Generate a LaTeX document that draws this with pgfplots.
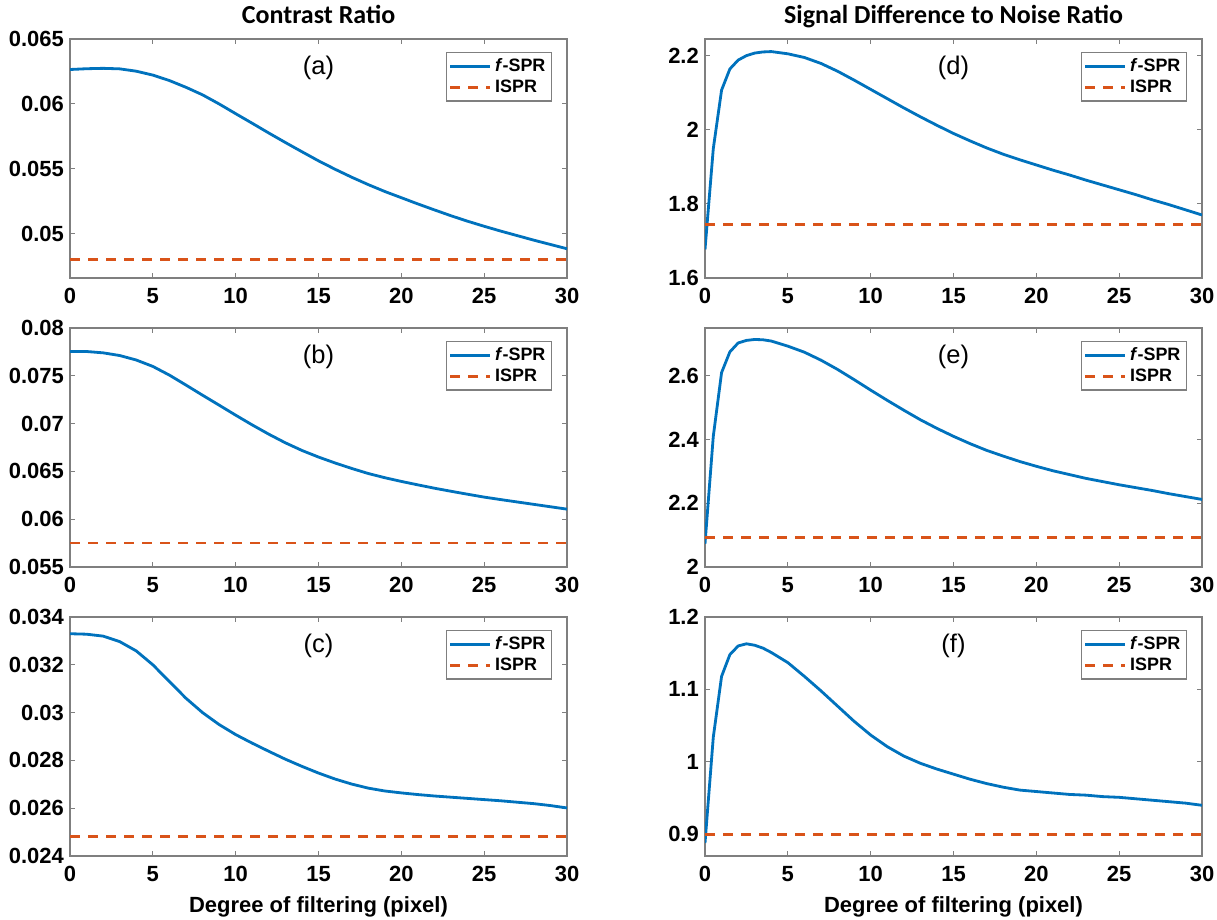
\documentclass[border=0pt]{standalone}
\usepackage{pgfplots}
\pgfplotsset{compat=1.18}
\usepackage{fontspec}
\setmainfont{Liberation Sans}
\newfontfamily\titlefont{Carlito}
\definecolor{mblue}{HTML}{0072BD}
\definecolor{morange}{HTML}{D95319}
\definecolor{frame}{HTML}{7F7F7F}

\pgfplotsset{
  panel/.style={
    scale only axis, width=9.94cm, height=4.78cm,
    xmin=0, xmax=30, xtick={0,5,...,30},
    axis line style={frame, line width=0.6pt},
    every tick/.style={frame, line width=0.6pt},
    major tick length=0.1cm,
    tick align=inside,
    scaled y ticks=false,
    /pgf/number format/assume math mode=true,
    ticklabel style={font=\fontsize{12.5}{14}\selectfont\bfseries, text=black},
    xticklabel style={yshift=-0.08cm},
    yticklabel style={/pgf/number format/fixed, /pgf/number format/precision=3},
    every axis title shift=0pt,
    title style={font=\titlefont\fontsize{14.8}{16}\selectfont\bfseries,
      at={(0.5,1)}, anchor=base, yshift=0.3cm},
    xlabel style={font=\fontsize{12.5}{14}\selectfont\bfseries,
      at={(0.5,0)}, anchor=base, yshift=-1.14cm},
    legend style={at={(0.97,0.945)}, anchor=north east, draw=frame,
      line width=0.6pt, font=\fontsize{10.2}{12}\selectfont\bfseries,
      inner sep=1.5pt, row sep=-1pt,
      nodes={inner sep=2pt, anchor=west}},
    legend cell align=left,
    legend image code/.code={\draw[#1] (0cm,0cm) -- (0.8cm,0cm);},
  },
  spr/.style={mblue, line width=1.6pt, line join=round},
  ispr/.style={morange, line width=1.6pt, dash pattern=on 0.2cm off 0.16cm},
}
\newcommand{\panellabel}[1]{\node[font=\fontsize{14.5}{16}\selectfont] at (rel axis cs:0.5,0.88) {#1};}

\begin{document}
\begin{tikzpicture}
\useasboundingbox (0,0) rectangle (24.34,18.4);

% ---- left column: contrast ratio
\begin{axis}[panel, at={(1.40cm,12.84cm)}, anchor=south west,
  title={Contrast Ratio},
  ymin=0.0466, ymax=0.065, ytick={0.05,0.055,0.06,0.065}]
\addplot[spr] coordinates {(0,0.06265)(1,0.06271)(2,0.06274)(3,0.06270)(4,0.06252)(5,0.06222)
  (6,0.06180)(7,0.06128)(8,0.06070)(9,0.06000)(10,0.05925)(11,0.05851)(12,0.05776)(13,0.05703)
  (14,0.05632)(15,0.05562)(16,0.05497)(17,0.05436)(18,0.05379)(19,0.05326)(20,0.05278)
  (21,0.05230)(22,0.05184)(23,0.05139)(24,0.05097)(25,0.05058)(26,0.05021)(27,0.04986)
  (28,0.04951)(29,0.04918)(30,0.04885)};
\addlegendentry{\textit{f}-SPR}
\addplot[ispr] coordinates {(0,0.048)(30,0.048)};
\addlegendentry{ISPR}
\panellabel{(a)}
\end{axis}

\begin{axis}[panel, at={(1.40cm,7.06cm)}, anchor=south west,
  ymin=0.055, ymax=0.08, ytick={0.055,0.06,0.065,0.07,0.075,0.08}]
\addplot[spr] coordinates {(0,0.07755)(1,0.07754)(2,0.07740)(3,0.07712)(4,0.07665)(5,0.07598)
  (6,0.07507)(7,0.07403)(8,0.07297)(9,0.07193)(10,0.07088)(11,0.06986)(12,0.06889)(13,0.06799)
  (14,0.06719)(15,0.06650)(16,0.06588)(17,0.06531)(18,0.06478)(19,0.06434)(20,0.06395)
  (21,0.06359)(22,0.06324)(23,0.06292)(24,0.06261)(25,0.06231)(26,0.06205)(27,0.06180)
  (28,0.06155)(29,0.06130)(30,0.06105)};
\addlegendentry{\textit{f}-SPR}
\addplot[ispr] coordinates {(0,0.0575)(30,0.0575)};
\addlegendentry{ISPR}
\panellabel{(b)}
\end{axis}

\begin{axis}[panel, at={(1.40cm,1.28cm)}, anchor=south west,
  xlabel={Degree of filtering (pixel)},
  ymin=0.024, ymax=0.034, ytick={0.024,0.026,0.028,0.03,0.032,0.034}]
\addplot[spr] coordinates {(0,0.03330)(1,0.03328)(2,0.03320)(3,0.03297)(4,0.03258)(5,0.03200)
  (6,0.03130)(7,0.03060)(8,0.03000)(9,0.02950)(10,0.02908)(11,0.02872)(12,0.02838)(13,0.02805)
  (14,0.02775)(15,0.02747)(16,0.02722)(17,0.02701)(18,0.02684)(19,0.02672)(20,0.02664)
  (21,0.02657)(22,0.02651)(23,0.02646)(24,0.02641)(25,0.02636)(26,0.02631)(27,0.02625)
  (28,0.02619)(29,0.02611)(30,0.02601)};
\addlegendentry{\textit{f}-SPR}
\addplot[ispr] coordinates {(0,0.0248)(30,0.0248)};
\addlegendentry{ISPR}
\panellabel{(c)}
\end{axis}

% ---- right column: SDNR
\begin{axis}[panel, at={(14.10cm,12.84cm)}, anchor=south west,
  title={Signal Difference to Noise Ratio},
  ymin=1.6, ymax=2.245, ytick={1.6,1.8,2,2.2}]
\addplot[spr] coordinates {(0,1.677)(0.5,1.949)(1,2.107)(1.5,2.164)(2,2.188)(2.5,2.2)(3,2.207)
  (3.5,2.21)(4,2.211)(5,2.205)(6,2.195)(7,2.179)(8,2.158)(9,2.134)(10,2.109)(11,2.084)(12,2.059)
  (13,2.035)(14,2.012)(15,1.99)(16,1.97)(17,1.951)(18,1.934)(19,1.919)(20,1.905)(21,1.891)
  (22,1.878)(23,1.864)(24,1.851)(25,1.838)(26,1.825)(27,1.811)(28,1.798)(29,1.784)(30,1.77)};
\addlegendentry{\textit{f}-SPR}
\addplot[ispr] coordinates {(0,1.745)(30,1.745)};
\addlegendentry{ISPR}
\panellabel{(d)}
\end{axis}

\begin{axis}[panel, at={(14.10cm,7.06cm)}, anchor=south west,
  ymin=2, ymax=2.75, ytick={2,2.2,2.4,2.6}]
\addplot[spr] coordinates {(0,2.073)(0.5,2.41)(1,2.61)(1.5,2.675)(2,2.703)(2.5,2.711)(3,2.714)
  (3.5,2.713)(4,2.709)(5,2.693)(6,2.674)(7,2.649)(8,2.62)(9,2.588)(10,2.555)(11,2.523)(12,2.492)
  (13,2.462)(14,2.435)(15,2.41)(16,2.387)(17,2.366)(18,2.348)(19,2.331)(20,2.316)(21,2.302)
  (22,2.29)(23,2.278)(24,2.268)(25,2.258)(26,2.249)(27,2.24)(28,2.23)(29,2.221)(30,2.212)};
\addlegendentry{\textit{f}-SPR}
\addplot[ispr] coordinates {(0,2.093)(30,2.093)};
\addlegendentry{ISPR}
\panellabel{(e)}
\end{axis}

\begin{axis}[panel, at={(14.10cm,1.28cm)}, anchor=south west,
  xlabel={Degree of filtering (pixel)},
  ymin=0.87, ymax=1.2, ytick={0.9,1,1.1,1.2}]
\addplot[spr] coordinates {(0,0.888)(0.5,1.034)(1,1.118)(1.5,1.148)(2,1.16)(2.5,1.163)(3,1.161)
  (3.5,1.157)(4,1.151)(5,1.137)(6,1.118)(7,1.098)(8,1.077)(9,1.056)(10,1.037)(11,1.021)(12,1.008)
  (13,0.998)(14,0.99)(15,0.983)(16,0.976)(17,0.97)(18,0.965)(19,0.961)(20,0.959)(21,0.957)
  (22,0.955)(23,0.954)(24,0.952)(25,0.951)(26,0.949)(27,0.947)(28,0.945)(29,0.943)(30,0.94)};
\addlegendentry{\textit{f}-SPR}
\addplot[ispr] coordinates {(0,0.9)(30,0.9)};
\addlegendentry{ISPR}
\panellabel{(f)}
\end{axis}
\end{tikzpicture}
\end{document}
